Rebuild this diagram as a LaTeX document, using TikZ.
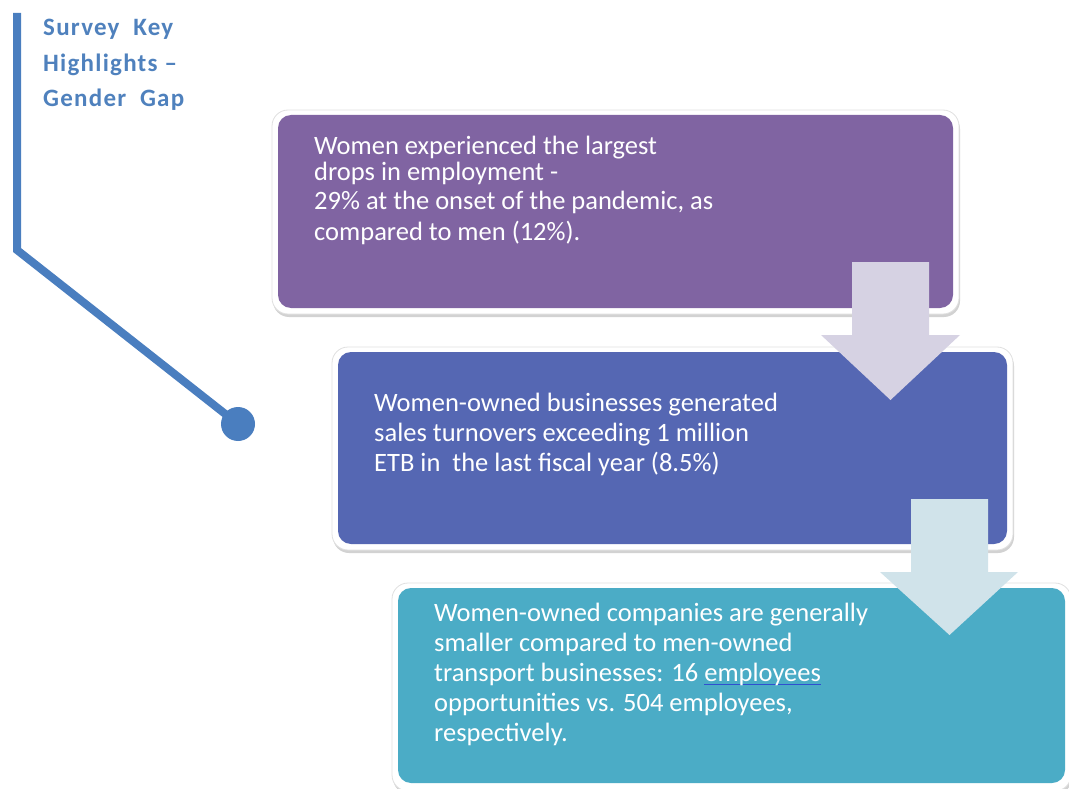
\documentclass[tikz,border=0pt]{standalone}
\usepackage{fontspec}
\setmainfont{Carlito}
\usetikzlibrary{shadows}
\definecolor{ttlblue}{HTML}{4F81BD}
\definecolor{linkblue}{HTML}{4A7EBF}
\definecolor{boxpurple}{HTML}{8064A2}
\definecolor{boxblue}{HTML}{5567B3}
\definecolor{boxteal}{HTML}{4BACC6}
\definecolor{arrowlav}{HTML}{D6D2E3}
\definecolor{arrowcyan}{HTML}{D0E3EA}
\definecolor{ulblue}{HTML}{2F4FD0}
\newcommand\myblueul[1]{\setbox0\hbox{#1}\rlap{\color{ulblue}\rule[-3.5pt]{\wd0}{1.4pt}}\box0}
\begin{document}
\begin{tikzpicture}[x=1pt,y=-1pt,
  frame/.style={fill=white,draw=black!12,line width=0.8pt,rounded corners=16pt,
    drop shadow={shadow xshift=1pt,shadow yshift=-3pt,fill=black!35,opacity=0.5}},
  panel/.style={rounded corners=13pt,draw=none},
  paneltext/.style={anchor=north west,inner sep=0pt,align=left,text=white,
    font=\fontsize{26.5}{30}\selectfont},
  titletext/.style={anchor=north west,inner sep=0pt,align=left,text=ttlblue,
    font=\fontsize{25}{35.5}\selectfont\bfseries\addfontfeature{LetterSpace=5}}]
\useasboundingbox (0,0) rectangle (1069,789);
% title and connector
\node[titletext] (title) at (43,19) {Survey\ \ Key\\Highlights\ –\\Gender\ \ Gap};
\coordinate (top) at (17,13);
\coordinate (corner) at (17,250);
\node[circle,fill=linkblue,minimum size=34pt,inner sep=0pt] (dot) at (238,424) {};
\draw[linkblue,line width=8pt,line join=miter] (top) -- (corner) -- (dot.center);
% box 1
\path[frame] (272,110) rectangle (959,314);
\path[panel,fill=boxpurple] (278,115) rectangle (953,308);
\node[paneltext] (t1) at (314,136) {Women experienced the largest\\[-4pt]drops in employment -\\[-1pt]29\% at the onset of the pandemic, as\\[1pt]compared to men (12\%).};
% box 2
\path[frame] (332,347) rectangle (1013,550);
\path[panel,fill=boxblue] (338,352) rectangle (1007,544);
\node[paneltext] (t2) at (374,393) {Women-owned businesses generated\\sales turnovers exceeding 1 million\\ETB in\ \ the last fiscal year (8.5\%)};
% box 3
\path[frame] (392,583) rectangle (1071,791);
\path[panel,fill=boxteal] (398,588) rectangle (1065,783);
\node[paneltext] (t3) at (434,603) {Women-owned companies are generally\\smaller compared to men-owned\\transport businesses: 16 \myblueul{employees}\\opportunities vs. 504 employees,\\respectively.};
% arrows
\fill[arrowlav] (852,262) -- (929,262) -- (929,335) -- (960,335) -- (890.5,400) -- (821,335) -- (852,335) -- cycle;
\fill[arrowcyan] (911,499) -- (988,499) -- (988,572) -- (1018,572) -- (949.5,635) -- (880,572) -- (911,572) -- cycle;
\end{tikzpicture}
\end{document}
